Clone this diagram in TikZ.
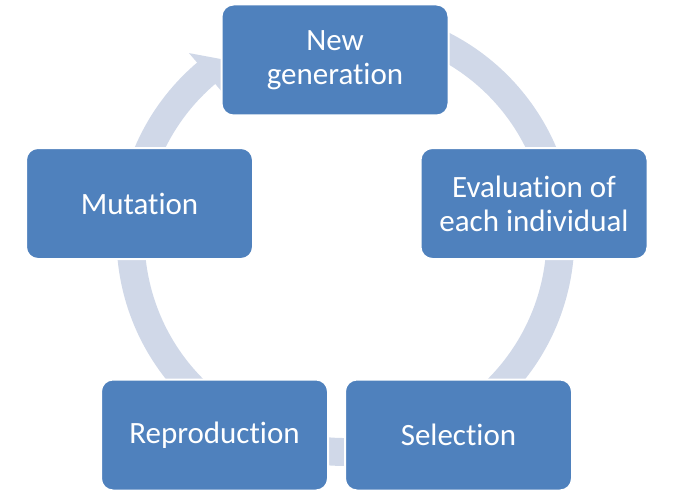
\documentclass[tikz,border=0pt]{standalone}
\usepackage{fontspec}
\setmainfont{Carlito}[Ligatures=NoCommon]
\usetikzlibrary{calc}
\definecolor{boxblue}{HTML}{4F81BD}
\definecolor{ringcol}{HTML}{D0D8E8}
\tikzset{
  stagebox/.style={rectangle, rounded corners=12pt, fill=boxblue, draw=white,
    line width=2pt, minimum width=227pt, minimum height=111pt, inner sep=0pt,
    outer sep=0pt, align=center, text=white,
    font=\fontsize{31pt}{34pt}\selectfont},
  ring/.style={fill=ringcol, draw=none}
}
\begin{document}
\begin{tikzpicture}[x=1pt, y=-1pt]
\useasboundingbox (0,0) rectangle (678,503);
\coordinate (c) at (345.5,237);
% ring body
\fill[ring] ($(c)+(230:229)$) arc[start angle=230, end angle=-100, radius=229]
  -- ($(c)+(-100:201)$) arc[start angle=-100, end angle=230, radius=201] -- cycle;
% arrow head
\fill[ring] ($(c)+(229.6:189)$) -- ($(c)+(229.6:241.5)$) -- ($(c)+(235.6:215)$) -- cycle;
% boxes
\node[stagebox] (newgen) at (335,60) {New\\generation};
\node[stagebox] (eval) at (534,203.5) {Evaluation of\\each individual};
\node[stagebox] (sel) at (458.5,435) {Selection};
\node[stagebox] (repro) at (214.5,435) {Reproduction};
\node[stagebox] (mut) at (139.5,203.5) {Mutation};
\end{tikzpicture}
\end{document}
